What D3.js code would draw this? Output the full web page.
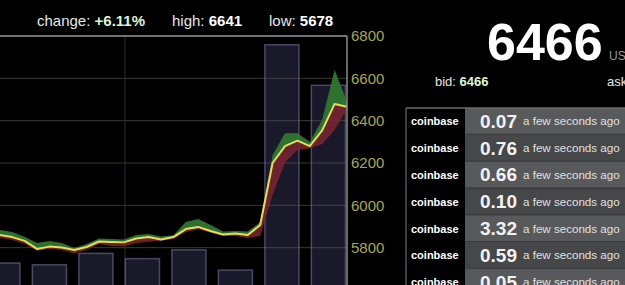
<!DOCTYPE html>
<html>
<head>
<meta charset="utf-8">
<script src="https://cdn.jsdelivr.net/npm/d3@7"></script>
<style>
  html, body { margin: 0; padding: 0; background: #000; overflow: hidden; }
  svg { display: block; font-family: "Liberation Sans", Arial, sans-serif; }
</style>
</head>
<body>
<svg id="chart"></svg>
<script>
const width = 625;
const height = 285;

// price series, one point per time step
const mid = [5860, 5850, 5832, 5794, 5805, 5801, 5789, 5803, 5829, 5827, 5825, 5843, 5850, 5839, 5850,
  5888, 5898, 5879, 5862, 5867, 5860, 5907, 6200, 6280, 6306, 6280, 6354, 6479, 6466];
const high = [5884, 5874, 5851, 5822, 5832, 5822, 5798, 5817, 5843, 5841, 5839, 5860, 5864, 5853, 5859,
  5921, 5936, 5907, 5876, 5879, 5876, 5921, 6238, 6341, 6341, 6300, 6404, 6641, 6490];
const low = [5846, 5836, 5818, 5785, 5794, 5789, 5773, 5789, 5817, 5808, 5805, 5822, 5828, 5833, 5841,
  5874, 5887, 5870, 5855, 5855, 5846, 5855, 6049, 6204, 6261, 6269, 6290, 6356, 6455];

// volume bars (time position, volume)
const barTimes = [0.25, 4, 7.75, 11.5, 15.25, 19, 22.75, 26.5];
const volumes = [4.2, 4.0, 5.3, 4.7, 5.7, 3.4, 29.0, 24.4];

const priceTicks = [5600, 5800, 6000, 6200, 6400, 6600, 6800];
const timeGrid = [10.1];

// trades table
const exchanges = ["coinbase", "coinbase", "coinbase", "coinbase", "coinbase", "coinbase", "coinbase"];
const amounts = ["0.07", "0.76", "0.66", "0.10", "3.32", "0.59", "0.05"];
const ages = ["a few seconds ago", "a few seconds ago", "a few seconds ago", "a few seconds ago",
  "a few seconds ago", "a few seconds ago", "a few seconds ago"];

const stats = { change: "+6.11%", high: "6641", low: "5678", last: "6466", bid: "6466", ask: "6467" };

const svg = d3.select("#chart").attr("width", width).attr("height", height);
svg.append("rect").attr("width", width).attr("height", height).attr("fill", "#000");

const plotRight = 347;
const plotTop = 36;

const x = d3.scaleLinear().domain([0, mid.length - 1]).range([-0.2, plotRight]);
const y = d3.scaleLinear().domain([5600, 6800]).range([290, plotTop]);
const yVol = d3.scaleLinear().domain([0, 30]).range([300, plotTop]);
const barW = x(2.75) - x(0);

const plot = svg.append("g");

// gridlines
plot.selectAll(".hgrid")
  .data(priceTicks.filter(t => t < 6800))
  .enter().append("line")
  .attr("x1", -10).attr("x2", plotRight)
  .attr("y1", d => y(d)).attr("y2", d => y(d))
  .attr("stroke", "#3a392c").attr("stroke-width", 1);

plot.selectAll(".vgrid")
  .data(timeGrid)
  .enter().append("line")
  .attr("x1", d => x(d)).attr("x2", d => x(d))
  .attr("y1", plotTop).attr("y2", height)
  .attr("stroke", "#2e2e2e").attr("stroke-width", 1);

// volume bars
plot.selectAll(".bar")
  .data(barTimes)
  .enter().append("rect")
  .attr("x", (d, i) => x(d) - barW / 2)
  .attr("y", (d, i) => yVol(volumes[i]))
  .attr("width", barW)
  .attr("height", (d, i) => yVol(0) - yVol(volumes[i]))
  .attr("fill", "rgba(75,75,125,0.33)")
  .attr("stroke", "rgba(120,120,170,0.55)")
  .attr("stroke-width", 1.5);

// high / low bands
const areaHigh = d3.area().x((d, i) => x(i)).y0((d, i) => y(mid[i])).y1(d => y(d));
const areaLow = d3.area().x((d, i) => x(i)).y0((d, i) => y(mid[i])).y1(d => y(d));

plot.append("path").datum(high).attr("d", areaHigh)
  .attr("fill", "#2f7a2f").attr("fill-opacity", 0.92);
plot.append("path").datum(low).attr("d", areaLow)
  .attr("fill", "#7a2634").attr("fill-opacity", 0.85);

plot.append("path").datum(mid)
  .attr("d", d3.line().x((d, i) => x(i)).y(d => y(d)))
  .attr("fill", "none")
  .attr("stroke", "#ecd95c")
  .attr("stroke-width", 2)
  .attr("stroke-linejoin", "round");

// frame
plot.append("line").attr("x1", -10).attr("x2", plotRight).attr("y1", plotTop).attr("y2", plotTop)
  .attr("stroke", "#9a9a9a").attr("stroke-width", 1.5);
plot.append("line").attr("x1", plotRight).attr("x2", plotRight).attr("y1", plotTop).attr("y2", height)
  .attr("stroke", "#8a8a8a").attr("stroke-width", 1.5);

// price axis
const yAxis = svg.append("g")
  .attr("transform", `translate(${plotRight},0)`)
  .call(d3.axisRight(y).tickValues(priceTicks).tickSize(0).tickPadding(4).tickFormat(d3.format("d")));
yAxis.select(".domain").remove();
yAxis.selectAll("text")
  .attr("fill", "#a9a64f")
  .attr("font-size", 15)
  .attr("font-family", "Liberation Sans, Arial, sans-serif");

// header stats
const header = svg.append("text").attr("y", 26).attr("font-size", 15).attr("fill", "#e6e6e6");
header.append("tspan").attr("x", 37).text("change: ");
header.append("tspan").attr("font-weight", "bold").attr("fill", "#dff5d6").text(stats.change);
header.append("tspan").attr("x", 172).text("high: ");
header.append("tspan").attr("font-weight", "bold").attr("fill", "#fff").text(stats.high);
header.append("tspan").attr("x", 269).text("low: ");
header.append("tspan").attr("font-weight", "bold").attr("fill", "#fff").text(stats.low);

// right panel
svg.append("text").attr("x", 487).attr("y", 60)
  .attr("font-size", 52).attr("font-weight", "bold").attr("fill", "#fff")
  .text(stats.last);
svg.append("text").attr("x", 609).attr("y", 60)
  .attr("font-size", 12).attr("fill", "#9a9a9a").text("USD");

const bid = svg.append("text").attr("x", 435).attr("y", 86).attr("font-size", 13).attr("fill", "#e6e6e6");
bid.append("tspan").text("bid: ");
bid.append("tspan").attr("font-weight", "bold").attr("fill", "#dff5d6").text(stats.bid);
const ask = svg.append("text").attr("x", 607).attr("y", 86).attr("font-size", 13).attr("fill", "#e6e6e6");
ask.append("tspan").text("ask: ");
ask.append("tspan").attr("font-weight", "bold").attr("fill", "#dff5d6").text(stats.ask);

// trades table
const tableX = 406;
const tableTop = 108;
const rowH = 26.8;
const valueX = 465;

const rows = svg.append("g").selectAll(".row")
  .data(exchanges)
  .enter().append("g")
  .attr("transform", (d, i) => `translate(0,${tableTop + i * rowH})`);

rows.append("rect")
  .attr("x", valueX).attr("y", 0)
  .attr("width", width - valueX).attr("height", rowH)
  .attr("fill", (d, i) => i % 2 === 0 ? "#58595b" : "#464749");

rows.append("line")
  .attr("x1", valueX).attr("x2", width).attr("y1", rowH - 0.5).attr("y2", rowH - 0.5)
  .attr("stroke", "#3a3a3a").attr("stroke-width", 1);

rows.append("text")
  .attr("x", 411).attr("y", rowH / 2 + 4)
  .attr("font-size", 11).attr("font-weight", "bold").attr("fill", "#fff")
  .text(d => d);

rows.append("text")
  .attr("x", 480).attr("y", rowH / 2 + 6.5)
  .attr("font-size", 19).attr("font-weight", "bold").attr("fill", "#f2f2f2")
  .text((d, i) => amounts[i]);

rows.append("text")
  .attr("x", 523).attr("y", rowH / 2 + 4)
  .attr("font-size", 11.6).attr("fill", "#e0e0e0")
  .text((d, i) => ages[i]);

svg.append("line").attr("x1", tableX).attr("x2", width).attr("y1", tableTop).attr("y2", tableTop)
  .attr("stroke", "#6a6a6a").attr("stroke-width", 1.5);
svg.append("line").attr("x1", tableX).attr("x2", tableX).attr("y1", tableTop).attr("y2", height)
  .attr("stroke", "#555").attr("stroke-width", 1.5);
</script>
</body>
</html>
